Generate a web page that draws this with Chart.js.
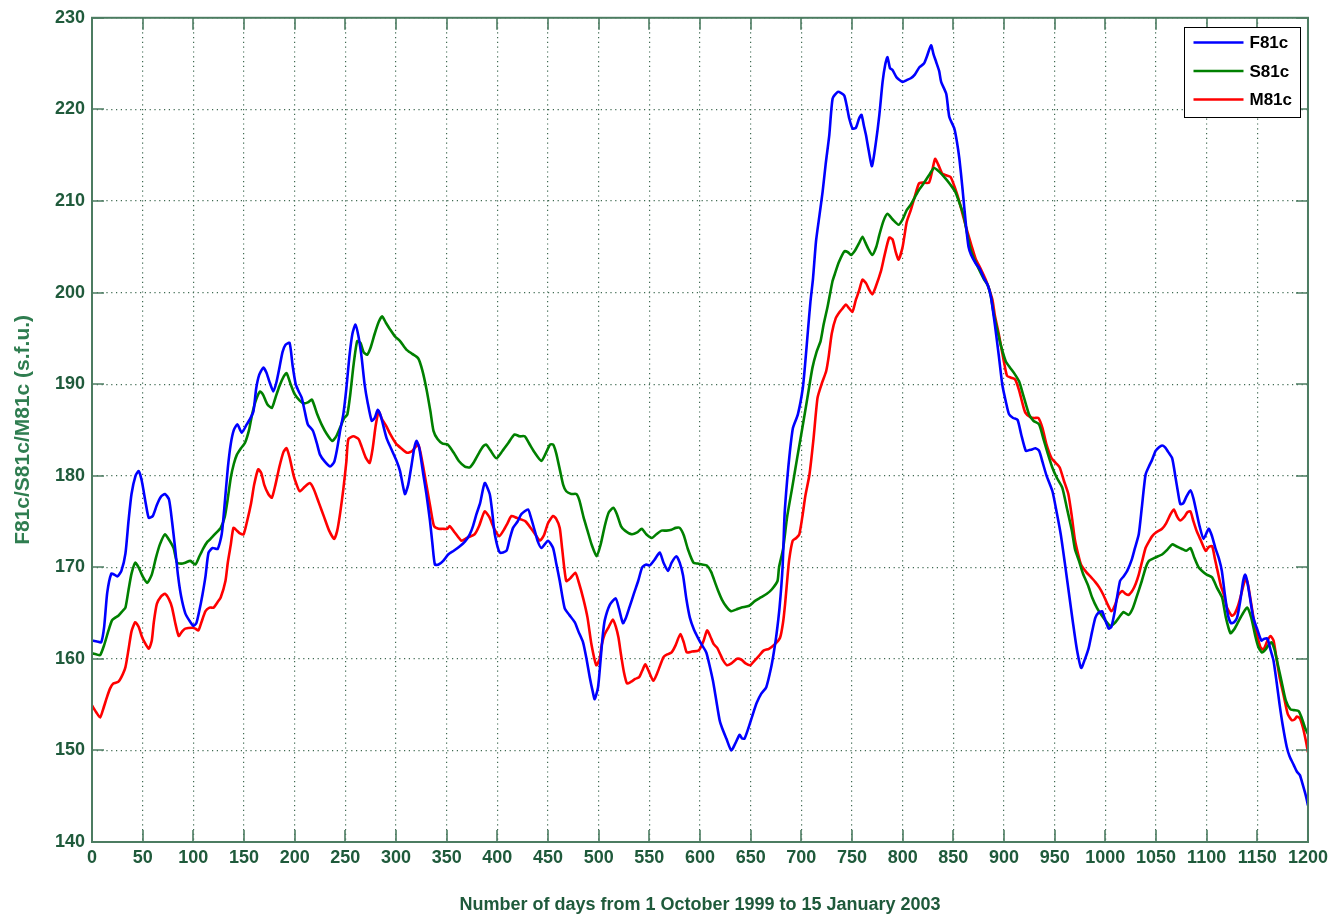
<!DOCTYPE html>
<html>
<head>
<meta charset="utf-8">
<script src="https://cdn.jsdelivr.net/npm/chart.js@4/dist/chart.umd.min.js"></script>
<style>
  html, body { margin: 0; padding: 0; background: #ffffff; }
  #wrap { position: relative; width: 1333px; height: 918px; }
</style>
</head>
<body>
<div id="wrap"><canvas id="c" width="1333" height="918"></canvas></div>
<script>
// ---- Data ----
const seriesNames = ["F81c", "S81c", "M81c"];

const f81cDays = [0,5,9,12,15,19,22,25,29,33,36,39,43,46,49,53,56,60,64,68,72,76,79,82,85,88,92,96,100,103,106,109,112,115,119,124,128,131,134,137,140,143.5,147.8,152.7,156,159.3,162,165,169,172,175,179,182,185,188,191,195,198,201,204,207,210,213,218,222,225,230,235,239,242,245,248,251,254,257,260,263,266,269,272,276,279,282,285,290.7,295,300.6,304,308.8,312,315.4,318,320.3,323,327,330,333.5,336,338.4,342,346.6,351.5,357,363,368,372.8,376,379.4,383,387.6,392.5,395,397.5,402.4,409,412,415.5,420,423.7,430.3,433,436.9,440,443.5,450,455,458,461.6,466.5,471,476.4,480,484.6,488,491.2,494,496.1,499.4,502,504,506,511,516.8,520,524,527,530.6,535,539,543,547,550.4,555,560.3,564,568.5,572,576.7,580,583.3,586.6,590,594,598,602,606.2,609,612.8,616,619.4,622,626,630.9,635,639.1,641.5,644,648,652.3,656,660.5,665.4,670.3,673,675.3,678.5,681.5,683.5,686,688.4,691.7,696.6,701.5,704,706.5,709,711.5,714.5,718,721,724,727.6,730.9,735.8,739,742.4,745,747.3,750.6,753.9,757,759.4,761.6,763.8,766.5,769.7,773.6,777,780.2,783,785,787.5,790,794,800,804,808,812,816.5,821,824,828,830.5,833,836,838,843,846,851,853.5,856,859,862.8,865,867.6,872,876,880,884,887,891,895,898.4,902,905,909,913.4,917,921.6,925,928.2,931,934.7,938,942,947.8,952,956,960,964.3,968,972,976.2,980,983.6,987,990.2,993,996.8,1000,1003.4,1006,1009,1014.5,1018,1021.6,1026,1029,1033,1036,1039.7,1043,1046,1049.6,1053,1056,1059,1062,1066,1069,1072,1074,1077,1080,1084,1087,1090,1093,1097,1102,1105,1108.6,1112,1115,1118,1121,1124,1127,1130,1133,1136,1138,1140,1143,1146,1150,1154,1157,1160,1163,1166,1169,1172,1175,1179,1182,1186,1189,1192,1195,1198,1200];
const f81cVals = [162.0,161.9,161.8,163.5,167.2,169.3,169.2,169.0,169.6,171.5,175,178,180,180.5,179.5,177,175.4,175.6,176.8,177.7,178,177.4,175,172.1,169,166.8,165,164.2,163.6,163.9,165.3,167,169,171.6,172.1,172,173.6,177,180.8,183.5,185,185.6,184.7,185.6,186.2,187,189.5,191,191.8,191.3,190.3,189.2,190.2,191.8,193.5,194.3,194.5,192,190,189.2,188.5,187,185.6,184.9,183.5,182.3,181.5,181,181.5,183,185,186.7,189.5,193,195.5,196.5,195.2,193,190,188,186,186.3,187.2,186.5,184.1,183,181.6,180.5,178,179,181.2,183,183.8,183,180.1,178,175.1,172.5,170.3,170.3,170.7,171.4,171.8,172.3,172.8,173.6,174.5,175.8,177,179.2,178,176,173.6,171.6,171.8,173,174.3,175,175.8,176.3,175.5,174,172.8,172.1,172.9,172.1,170.5,168.5,165.5,164.8,164,163,161.8,160,158,156.5,155.6,156.9,160,162.5,164.2,165.9,166.6,165.5,163.9,164.5,165.7,167.2,168.5,170,170.3,170.2,170.8,171.6,170.5,169.6,170.5,171.2,170.5,169.1,166.5,164.5,163.2,162.3,161.5,160.7,159.5,157.6,155.5,153.3,152.4,151.3,150.0,150.8,151.7,151.3,151.3,152.5,154,155.2,156.2,156.9,159.1,160.8,162.5,165.6,170,175.8,179.5,182.3,185.2,186.7,189.6,192.5,195.8,199,201.5,205.6,208.5,211,214,217.2,221.2,221.9,221.8,221.5,220.3,219,217.9,218,219,219.4,218.3,217.2,215.5,213.8,216.4,219.4,223,225,225.7,224.5,224.3,223.5,223,223.2,223.4,223.8,224.6,225,225.8,227,226,225.2,224.2,223,221.7,219.2,217.9,216.5,214.6,211.4,207,205,204.1,203.2,202.6,201.6,200.8,199.6,196.5,193,189.9,188,186.7,186.3,186.1,184.5,182.7,182.8,182.9,183,182.7,181.5,180,178.3,176,173.6,170.5,167,164,161,159.0,160,161.2,163,164.5,165,165.2,164.2,163.3,163.5,165,168.5,169,169.6,170.8,172,173.6,176.5,180.1,181,181.7,182.7,183.1,183.3,183.1,182.6,181.9,180,178,176.9,177,177.7,178.4,177.5,176,174.5,173.1,174.2,173.5,172.1,171,169.6,167,164.8,163.9,164,164.5,166.2,168.5,169.2,168.5,166.5,164.5,163.2,162,162.2,162.2,161,159.8,157.5,155,152.8,150.4,149.3,148.4,147.7,147.3,146.2,145,144];

const s81cDays = [0,4,8,12,16,19.7,23,26,30,33,36,39,42.7,46,50,54.4,59,63,67,72,76,80.5,84,88,92,97,102,106,110,114,117,122,127,131,134,137,140,143,147,151,155,158,162,166,169,173,177.5,181,185,189,192,196,200,205,209,213,217,222,227,232,237,241,245,249,252,255,258,261.7,265,268,271.5,275,279,283,286.3,290,294,299,304,310,316,322,326,330,334,337,341,346,351,357,362,368,372.8,377,382,386,389,393,399,405,411,417,422,427,432,437,443.5,448,452,455,458,462,465,468,473,478,481,485,489,493,498,502,506,510,514.5,518,522,526,532.6,538,542.5,547,552.4,557,562,567,572,576,580,584,588,593.6,598,602,606.7,611,615,618,621.5,626,630.7,636,641,648.6,654,660,666,671,676.5,678,682,686,691,696,701,706,711,715,719,722,726,730.7,733,737,742.5,746,749,753,757,760.4,763,766,770,774,777,781,785,790,796,800,804,808,812,816,820,826,831,836,842,847,852,856,860,863,866.8,870,875,880,884,887,890,894,897,901.7,906,910,914.9,919,924.7,929,934.6,939,943,947.7,952,957.5,962,967,970,974,978,983,987,992,996,1000,1005,1010,1014,1018,1023,1027,1031,1036,1040,1043,1048,1052,1056,1061,1066,1070,1075.8,1080,1084,1088,1092,1095.5,1100,1105.4,1110,1115.2,1119,1123.5,1127,1131,1136,1140,1144,1148,1151,1154.6,1158,1161,1164,1167,1170,1174,1178,1182.6,1186,1190.8,1194,1197,1200];
const s81cVals = [160.6,160.5,160.4,161.5,163,164.2,164.5,164.7,165.2,165.6,167.5,169.3,170.5,170,169,168.3,169.2,171,172.5,173.6,173,172.1,170.5,170.4,170.5,170.7,170.3,171.2,172.1,172.8,173.1,173.7,174.3,175.5,177.5,179.8,181.3,182.3,183,183.6,185,186.7,188.3,189.2,188.8,187.8,187.4,188.5,189.8,190.8,191.2,190,188.9,188.2,187.9,188,188.3,186.8,185.5,184.5,183.8,184.3,185.3,186.3,186.7,189,192,194.7,194.5,193.5,193.2,194,195.5,196.8,197.4,196.7,196,195.2,194.7,193.8,193.3,192.8,191.5,189.5,187,184.9,184,183.5,183.4,182.5,181.6,181,180.9,181.5,182.5,183.2,183.4,182.8,181.9,182.7,183.6,184.5,184.3,184.3,183.4,182.5,181.6,182.5,183.4,183.4,182.5,180.5,179,178.3,178,178,177.3,175.5,174,172.5,171.2,172.5,174.5,176,176.5,175.8,174.5,174,173.6,173.8,174.2,173.6,173.2,173.6,174,174,174.1,174.3,174.3,173.5,172,170.5,170.4,170.3,170.2,169.5,168.3,167.4,166.5,165.7,165.2,165.4,165.6,165.8,166.3,166.7,167.1,167.6,168.5,170,172,175.5,178.7,182,185.2,188.5,191.8,193.5,194.7,196.5,198.5,201.2,202,203.3,204.5,204.4,204.1,204.6,205.4,206.1,205.5,204.8,204.1,205,206.3,207.8,208.6,208,207.4,208,209,209.6,210.4,211.2,211.8,212.8,213.6,213.2,212.5,211.8,211,209.8,208.5,206.8,204.8,203.8,202.6,201.5,200.8,199.6,197.6,195.6,194.2,192.5,191.8,191.2,190.3,188.8,186.7,186,185.6,184,182.5,180.9,179.8,178.7,176.5,174,172,170.7,169.3,168,166.7,165.5,164.8,164.2,163.6,164,164.6,165.1,164.8,165.5,166.8,168.5,170,170.7,171,171.2,171.4,171.9,172.5,172.3,172,171.8,172.1,171,170,169.6,169.2,168.9,167.8,166.7,164.5,162.8,163.2,164,165,165.6,164.5,162.5,161.3,160.7,161,161.5,161.8,161,159.5,157.5,155.5,154.5,154.4,154.3,153.5,152.5,151.8];

const m81cDays = [0,4,8,11,14.7,18,21,26,29,33,36,39,42.7,46,49,51,56,59,61,64,68,72,76,79,82,85.6,89,92,99,102,105,108,112,116,120,124,127,131.7,134,137,139.6,143,146,149.6,153,157,160,164,167,170,174,177.5,181,185,189,192,195,199,202,205,210,215,219,224,229,234,239,242,245,248,251,253,258,263,266,270,274,277,280,283,286,290,294.5,300,305,311,316,322,326,330,334,337.5,342,346,350.5,353,358,364.6,370,377.6,382,387.5,392,397,402,406,410,414,419,424,428,433.5,438,442,446,450,455,458,461.6,464,468,472,477,480,485,489,493,497.7,501,503,506,510,514,517,519.6,522,525,528,532,536,540,543,546,550,554,558,564,568,572,576,580.6,584,587,592,598.6,603,607,610,613.5,617,620,623,626.6,631,636.5,641,645,649.6,653,658,662.7,668,674,679,682,684,686,688,691.5,695,698,701,704,708,712,716,720,724.5,727,730,734,738,741,744,747,750.5,753.8,757,760.4,764,767,770,773,778.5,782,786.7,790,793,796,800,804,808,812,816,820,826,829,832,835,839,843,847.4,852,856,860,864,868,872,877,882,885,888.6,891,895,899,903,907,911,915,918,921,926,930,934,938,942,947,951,955,959,963.5,967,970,973,976,981,986,990,994,998,1002,1006,1010,1013,1016.7,1020,1023.3,1027,1030,1033,1036,1039.7,1043,1046.3,1050,1056,1060,1064.4,1067.6,1071,1074,1078,1081,1084,1087,1090,1094,1099,1102,1105.4,1108,1111,1114,1117,1120,1125,1128,1131,1134,1137,1139,1141,1144,1147,1150,1153,1156,1160,1163,1166,1169,1172,1176,1180,1184,1187,1189,1192,1195,1198,1200];
const m81cVals = [154.9,154.2,153.6,154.5,155.8,156.8,157.3,157.5,158,159.1,161,163,164,163.5,162.5,162,161.1,162,164,166,166.8,167.1,166.5,165.6,164,162.5,163,163.3,163.4,163.3,163.1,164,165.2,165.6,165.6,166.2,166.7,168.5,170.5,172.5,174.3,174,173.7,173.6,175,177,179,180.7,180.3,179,178,177.6,179,181,182.6,183,182,180,179,178.3,178.8,179.2,178.5,177,175.5,174,173.1,174,176,178.5,181.5,184,184.3,184,183.2,182,181.4,183,185.5,187,186.2,185.5,184.5,183.5,183,182.5,182.7,183.4,181.5,179,176.5,174.5,174.2,174.2,174.2,174.5,173.8,172.9,173.2,173.6,174.5,176.1,175.5,174.2,173.4,174,174.8,175.6,175.4,175.2,175,174.2,173.5,172.9,173.5,174.8,175.6,175.3,174.3,172,168.5,168.8,169.4,168.5,166.5,164.5,161.5,159.3,160,161.5,162.7,163.5,164.3,163.5,162.3,160.5,158.5,157.3,157.5,157.8,158,158.7,159.4,158.5,157.6,158.5,160.2,160.5,160.7,161.5,162.7,161.8,160.7,160.8,160.9,161.8,163.1,162.5,161.6,161.2,160.5,159.8,159.3,159.5,160,159.9,159.5,159.3,159.7,160.3,160.9,161.1,161.6,162.3,164,166,168.5,170.8,172.9,173.2,173.6,175.5,177.8,180.1,184,188.5,190,191.4,193,195.5,197.2,197.9,198.3,198.7,198.3,197.9,199.2,200.2,201.4,201,200.3,199.8,200.5,202.3,204,206,205.8,204.5,203.6,205,207.7,209,210.5,211.9,212,212,213.2,214.6,214,213,212.8,212.6,211.3,209.9,208.2,206.6,205.1,203.7,202.6,201.4,200.5,199.2,197.5,195.4,193,190.9,190.7,190.5,189.3,188,186.9,186.4,186.3,186.3,185.2,183.4,181.9,181.4,180.9,179.5,178,175.5,173,171.5,170.3,169.5,168.9,168.4,167.8,167,166,165.2,166,167,167.4,167.1,167,167.5,168.2,169.2,170.5,172.1,172.8,173.4,173.8,174.2,174.8,175.8,176.3,175.5,175.1,175.5,176,176.1,175,174,173,171.8,172.2,172.3,171,169.5,168,167,165.6,164.7,165,165.8,167,168.3,168.7,168,166,164,162.5,161.3,161,162,162.5,162,160,158,156,154,153.3,153.4,153.7,153.5,152.5,151,149.8];

const xTickValues = [0,50,100,150,200,250,300,350,400,450,500,550,600,650,700,750,800,850,900,950,1000,1050,1100,1150,1200];
const yTickValues = [140,150,160,170,180,190,200,210,220,230];

const xTitle = "Number of days from 1 October 1999 to 15 January 2003";
const yTitle = "F81c/S81c/M81c (s.f.u.)";

// ---- Chart ----
const FONT = "'Liberation Sans', Arial, Helvetica, sans-serif";
const TICK_COLOR = "#1f5a3b";
const FRAME_COLOR = "#4c7c61";
const GRID_COLOR = "#3f6a52";

function toPoints(days, vals) { return days.map((d, i) => ({ x: d, y: vals[i] })); }

const datasets = [
  { label: seriesNames[0], data: toPoints(f81cDays, f81cVals), borderColor: "#0000ff" },
  { label: seriesNames[1], data: toPoints(s81cDays, s81cVals), borderColor: "#008000" },
  { label: seriesNames[2], data: toPoints(m81cDays, m81cVals), borderColor: "#ff0000" }
].map(d => Object.assign(d, { borderWidth: 2.6, pointRadius: 0, tension: 0.2, fill: false, backgroundColor: d.borderColor }));

const framePlugin = {
  id: 'matlabFrame',
  afterDatasetsDraw(chart) {
    const { ctx, chartArea: a, scales } = chart;
    const tl = 12;
    ctx.save();
    ctx.strokeStyle = FRAME_COLOR;
    ctx.lineWidth = 1.6;
    ctx.setLineDash([]);
    ctx.beginPath();
    xTickValues.forEach(v => {
      const px = Math.round(scales.x.getPixelForValue(v));
      ctx.moveTo(px, a.bottom); ctx.lineTo(px, a.bottom - tl);
      ctx.moveTo(px, a.top); ctx.lineTo(px, a.top + tl);
    });
    yTickValues.forEach(v => {
      const py = Math.round(scales.y.getPixelForValue(v));
      ctx.moveTo(a.left, py); ctx.lineTo(a.left + tl, py);
      ctx.moveTo(a.right, py); ctx.lineTo(a.right - tl, py);
    });
    ctx.stroke();
    ctx.lineWidth = 2;
    ctx.strokeRect(a.left, a.top, a.right - a.left, a.bottom - a.top);
    ctx.restore();
  }
};

const legendPlugin = {
  id: 'boxLegend',
  afterDraw(chart) {
    const { ctx } = chart;
    const bx = 1184.5, by = 27.5, bw = 116, bh = 90;
    ctx.save();
    ctx.fillStyle = "#ffffff";
    ctx.fillRect(bx, by, bw, bh);
    ctx.strokeStyle = "#000000";
    ctx.lineWidth = 1;
    ctx.strokeRect(bx, by, bw, bh);
    ctx.font = "bold 17px " + FONT;
    ctx.textBaseline = "middle";
    ctx.textAlign = "left";
    chart.data.datasets.forEach((ds, i) => {
      const y = by + 15 + i * 28.5;
      ctx.strokeStyle = ds.borderColor;
      ctx.lineWidth = 2.6;
      ctx.beginPath();
      ctx.moveTo(bx + 9, y); ctx.lineTo(bx + 59, y);
      ctx.stroke();
      ctx.fillStyle = "#000000";
      ctx.fillText(ds.label, bx + 65, y + 1);
    });
    ctx.restore();
  }
};

new Chart(document.getElementById('c'), {
  type: 'line',
  data: { datasets },
  options: {
    responsive: false,
    animation: false,
    events: [],
    layout: { padding: { top: 16, right: 24, left: 0, bottom: 0 } },
    plugins: { legend: { display: false }, tooltip: { enabled: false } },
    scales: {
      x: {
        type: 'linear', min: 0, max: 1200,
        afterFit(scale) { scale.height = 76; },
        afterBuildTicks(scale) { scale.ticks = xTickValues.map(v => ({ value: v })); },
        ticks: { color: TICK_COLOR, font: { family: FONT, size: 18, weight: 'bold' }, padding: 5, maxRotation: 0, autoSkip: false,
                 callback: (v) => String(v) },
        grid: { color: GRID_COLOR, lineWidth: 1.2, drawTicks: false },
        border: { display: false, dash: [1.2, 3.6] },
        title: { display: true, text: xTitle, color: TICK_COLOR, font: { family: FONT, size: 18, weight: 'bold' }, padding: { top: 4, bottom: 2 } }
      },
      y: {
        type: 'linear', min: 140, max: 230,
        afterFit(scale) { scale.width = 92; },
        afterBuildTicks(scale) { scale.ticks = yTickValues.map(v => ({ value: v })); },
        ticks: { color: TICK_COLOR, font: { family: FONT, size: 18, weight: 'bold' }, padding: 7, autoSkip: false,
                 callback: (v) => String(v) },
        grid: { color: GRID_COLOR, lineWidth: 1.2, drawTicks: false },
        border: { display: false, dash: [1.2, 3.6] },
        title: { display: true, text: yTitle, color: "#2f7d50", font: { family: FONT, size: 21, weight: 'bold' }, padding: { top: 11, bottom: 0 } }
      }
    }
  },
  plugins: [framePlugin, legendPlugin]
});
</script>
</body>
</html>
